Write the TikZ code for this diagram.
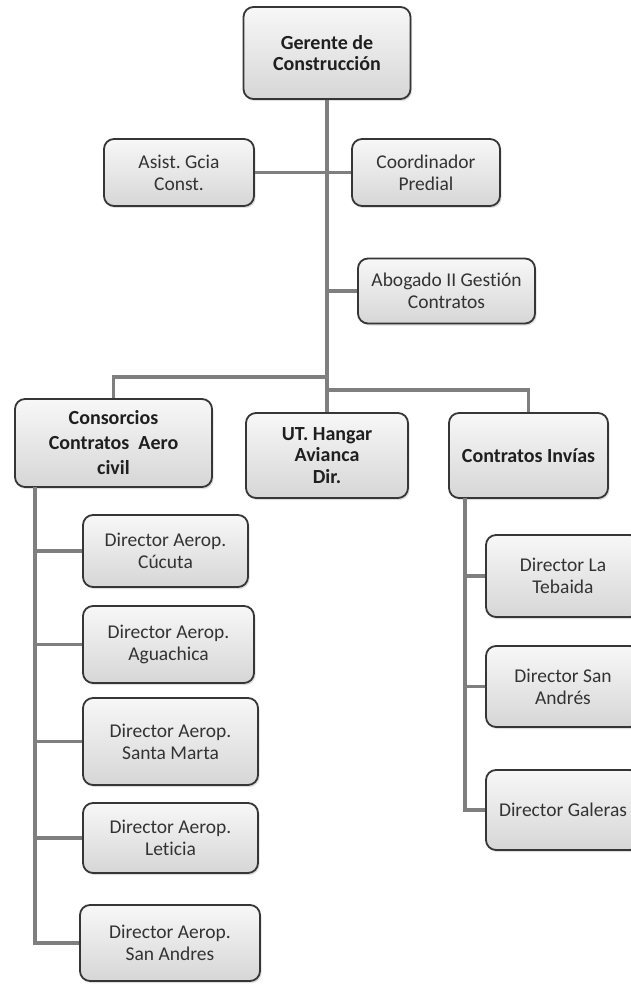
\documentclass[tikz,border=0pt]{standalone}
\usepackage{fontspec}
\setmainfont{Carlito}[Ligatures={NoCommon}]
\usetikzlibrary{shadows}
\definecolor{boxline}{HTML}{363636}
\definecolor{linkgray}{HTML}{7F7F7F}
\definecolor{txt}{HTML}{333333}
\tikzset{
  orgbox/.style={draw=boxline, line width=1.8pt, rounded corners=10pt,
    top color=gray!6, bottom color=gray!32, align=center, inner sep=2pt,
    text=txt, font=\fontsize{19.5}{22}\selectfont,
    drop shadow={opacity=0.25, shadow xshift=1.5pt, shadow yshift=-2pt}},
  headbox/.style={orgbox, text=black!88, font=\fontsize{20}{21.5}\selectfont\bfseries},
  link/.style={draw=linkgray, line width=3.2pt},
}
\frenchspacing
\begin{document}
\begin{tikzpicture}[x=1pt, y=-1pt]
\clip (0,0) rectangle (631,984);
\fill[white] (0,0) rectangle (631,984);

% top of the chart
\node[headbox, minimum width=167, minimum height=92] (ger) at (327,53) {Gerente de\\Construcción};
\node[orgbox, minimum width=150, minimum height=67] (asist) at (179,172.5) {Asist. Gcia\\Const.};
\node[orgbox, minimum width=148, minimum height=67] (coord) at (426,172.5) {Coordinador\\Predial};
\node[orgbox, minimum width=177, minimum height=65] (abog) at (446.5,291) {Abogado II Gestión\\Contratos};

% second level
\node[headbox, minimum width=197, minimum height=88, font=\fontsize{20}{25}\selectfont\bfseries] (cons) at (113.5,443) {Consorcios\\Contratos~~Aero\\civil};
\node[headbox, minimum width=162, minimum height=85] (ut) at (327,455.5) {UT. Hangar\\Avianca\\Dir.};
\node[headbox, minimum width=159, minimum height=85] (inv) at (528.5,455.5) {Contratos Invías};

% airport directors
\node[orgbox, minimum width=165, minimum height=72] (cuc) at (165.5,551) {Director Aerop.\\Cúcuta};
\node[orgbox, minimum width=171, minimum height=77] (agu) at (168.5,644.5) {Director Aerop.\\Aguachica};
\node[orgbox, minimum width=175, minimum height=87] (sta) at (170.5,741.5) {Director Aerop.\\Santa Marta};
\node[orgbox, minimum width=175, minimum height=70] (let) at (170.5,838) {Director Aerop.\\Leticia};
\node[orgbox, minimum width=180, minimum height=76] (sand) at (170,943) {Director Aerop.\\San Andres};

% road directors
\node[orgbox, minimum width=154, minimum height=82] (teb) at (563,576) {Director La\\Tebaida};
\node[orgbox, minimum width=154, minimum height=81] (sna) at (563,686.5) {Director San\\Andrés};
\node[orgbox, minimum width=154, minimum height=80] (gal) at (563,810) {Director Galeras};

% junction points of the connectors
\coordinate (busL) at (327,377);
\coordinate (busR) at (327,390);
\coordinate (trunkL) at (35,487);
\coordinate (trunkR) at (465,498);

% connectors
\path[link] (ger.south) -- (ut.north);
\path[link] (asist.east) -- (coord.west);
\path[link] (abog.west) -- (abog.west -| ger.south);
\path[link] (busL) -| (cons.north);
\path[link] (busR) -| (inv.north);

\path[link] (trunkL) |- (sand.west);
\path[link] (trunkL |- cuc.west) -- (cuc.west);
\path[link] (trunkL |- agu.west) -- (agu.west);
\path[link] (trunkL |- sta.west) -- (sta.west);
\path[link] (trunkL |- let.west) -- (let.west);

\path[link] (trunkR) |- (gal.west);
\path[link] (trunkR |- teb.west) -- (teb.west);
\path[link] (trunkR |- sna.west) -- (sna.west);
\end{tikzpicture}
\end{document}
